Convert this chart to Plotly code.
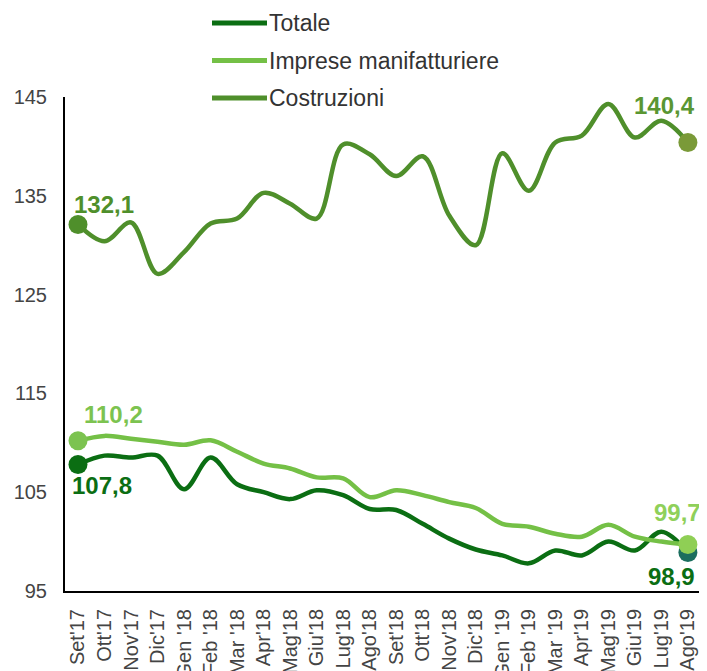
import plotly.graph_objects as go

months = ["Set'17", "Ott'17", "Nov'17", "Dic'17", "Gen '18", "Feb '18", "Mar '18", "Apr'18",
          "Mag'18", "Giu'18", "Lug'18", "Ago'18", "Set'18", "Ott'18", "Nov'18", "Dic'18",
          "Gen '19", "Feb '19", "Mar '19", "Apr'19", "Mag'19", "Giu'19", "Lug'19", "Ago'19"]

totale = [107.8, 108.7, 108.5, 108.7, 105.3, 108.5, 105.8, 105.0, 104.3, 105.2, 104.7, 103.3,
          103.2, 101.8, 100.3, 99.2, 98.6, 97.8, 99.1, 98.6, 100.0, 99.1, 101.0, 98.9]
imprese = [110.2, 110.7, 110.4, 110.1, 109.8, 110.25, 109.1, 107.9, 107.4, 106.5, 106.4, 104.5,
           105.2, 104.7, 104.0, 103.4, 101.8, 101.5, 100.8, 100.5, 101.7, 100.5, 100.0, 99.7]
costruzioni = [132.1, 130.4, 132.3, 127.1, 129.3, 132.2, 132.7, 135.3, 134.2, 132.7, 140.2, 139.2,
               137.0, 139.0, 133.0, 130.0, 139.3, 135.5, 140.4, 141.1, 144.3, 140.9, 142.6, 140.4]

series_names = ["Totale", "Imprese manifatturiere", "Costruzioni"]
tick_vals = [95, 105, 115, 125, 135, 145]

C_TOT = "#0b6e13"
C_IMP = "#74c046"
C_COS = "#4f8f2b"

FONT = "Liberation Sans, Arial, sans-serif"

fig = go.Figure()

for vals, col in [(totale, C_TOT), (imprese, C_IMP), (costruzioni, C_COS)]:
    fig.add_trace(go.Scatter(x=months, y=vals, mode="lines",
                             line=dict(color=col, width=4.5, shape="spline", smoothing=1.0),
                             showlegend=False, hoverinfo="x+y"))

# end-point markers
fig.add_trace(go.Scatter(x=[months[0], months[-1]], y=[totale[0], totale[-1]], mode="markers",
                         marker=dict(size=19, color=[C_TOT, "#1b6e5e"]), showlegend=False))
fig.add_trace(go.Scatter(x=[months[0], months[-1]], y=[imprese[0], imprese[-1]], mode="markers",
                         marker=dict(size=19, color=["#7cc350", "#8fcf55"]), showlegend=False))
fig.add_trace(go.Scatter(x=[months[0], months[-1]], y=[costruzioni[0], costruzioni[-1]], mode="markers",
                         marker=dict(size=19, color=[C_COS, "#7a9a38"]), showlegend=False))


def fmt(v):
    return ("%.1f" % v).replace(".", ",")


labels = [
    (months[0], costruzioni[0], "left", -6, 20, "#4f8f2b"),
    (months[-1], costruzioni[-1], "right", 9, 37, "#5a9632"),
    (months[0], imprese[0], "left", 4, 26, "#7cc350"),
    (months[-1], imprese[-1], "right", 15, 32, "#8fd05a"),
    (months[0], totale[0], "left", -8, -21, C_TOT),
    (months[-1], totale[-1], "right", 9, -24, C_TOT),
]
for x, y, xa, xs, ys, col in labels:
    fig.add_annotation(x=x, y=y, xref="x", yref="y", text="<b>%s</b>" % fmt(y), showarrow=False,
                       xanchor=xa, yanchor="middle", xshift=xs, yshift=ys,
                       font=dict(family=FONT, size=24, color=col))

# custom legend (page pixel positions -> paper coords; plot area spans x 65..703, y 97..591)
W, H = 638.0, 494.0
def px(x):
    return (x - 65) / W
def py(y):
    return (591 - y) / H

for i, (name, col) in enumerate(zip(series_names, [C_TOT, C_IMP, C_COS])):
    yy = 23 + i * 37.5
    fig.add_shape(type="line", xref="paper", yref="paper", x0=px(212), x1=px(267), y0=py(yy), y1=py(yy),
                  line=dict(color=col, width=5))
    fig.add_annotation(xref="paper", yref="paper", x=px(267), y=py(yy), text=name, showarrow=False,
                       xanchor="left", yanchor="middle", font=dict(family=FONT, size=23, color="#333333"))

# page body has an 8px margin, so the figure is sized 8px smaller on each axis
fig.update_layout(
    width=699, height=663,
    margin=dict(l=57, r=4, t=89, b=80, autoexpand=False),
    paper_bgcolor="white", plot_bgcolor="white",
    font=dict(family=FONT, size=20, color="#444444"),
    showlegend=False,
)
fig.update_xaxes(type="category", range=[-0.49, 23.57], tickangle=-90, showgrid=False, automargin=False,
                 showline=True, linecolor="black", linewidth=2, ticks="", zeroline=False,
                 tickfont=dict(family=FONT, size=20, color="#444444"), ticklabelstandoff=8)
fig.update_yaxes(range=[95, 145], tickvals=tick_vals, ticktext=[str(v) for v in tick_vals], automargin=False,
                 showgrid=False, showline=True, linecolor="black", linewidth=2, ticks="",
                 zeroline=False, tickfont=dict(family=FONT, size=20, color="#444444"),
                 ticklabelstandoff=12)

fig.write_html("out.html")
